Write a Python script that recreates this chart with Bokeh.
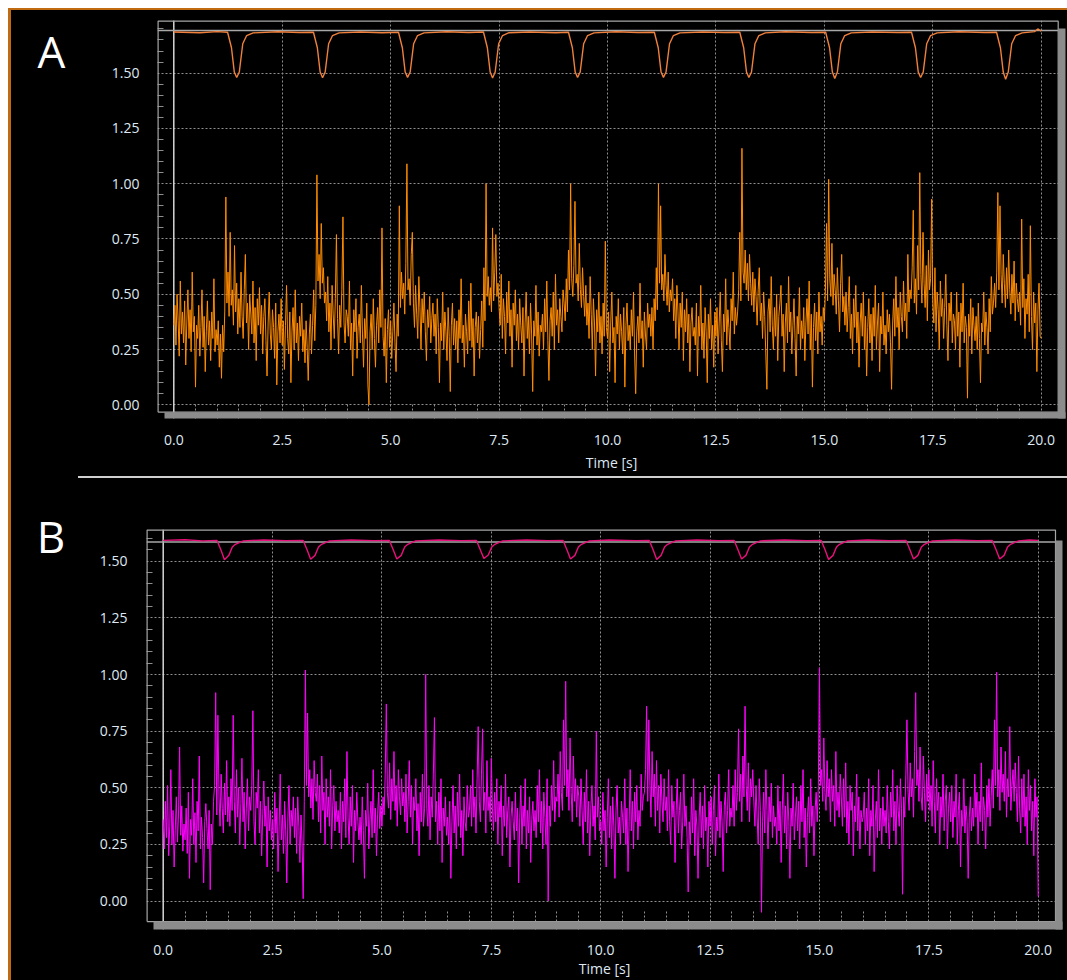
import numpy as np
from bokeh.plotting import figure
from bokeh.models import FixedTicker, NumeralTickFormatter, Spacer, Range1d
from bokeh.core.properties import value
from bokeh.layouts import column, row
from bokeh.embed import file_html
from bokeh.resources import INLINE

# ---------------- data ----------------
SAMPLE_DT = 0.025  # seconds between samples of the noisy traces

# Panel A, orange noisy trace (one value every 0.025 s, 0 .. 20 s; one row = 0.5 s)
A_signal = [
    0.36, 0.45, 0.27, 0.50, 0.38, 0.22, 0.56, 0.32, 0.42, 0.28, 0.47, 0.18, 0.37, 0.52, 0.30, 0.43, 0.24, 0.60, 0.33, 0.40,
    0.08, 0.36, 0.30, 0.45, 0.22, 0.35, 0.52, 0.26, 0.40, 0.15, 0.33, 0.47, 0.27, 0.38, 0.20, 0.42, 0.30, 0.57, 0.24, 0.34,
    0.27, 0.38, 0.17, 0.32, 0.12, 0.36, 0.24, 0.42, 0.94, 0.46, 0.60, 0.40, 0.78, 0.45, 0.52, 0.36, 0.72, 0.42, 0.55, 0.32,
    0.48, 0.35, 0.60, 0.40, 0.30, 0.52, 0.68, 0.37, 0.46, 0.25, 0.50, 0.41, 0.32, 0.56, 0.28, 0.44, 0.20, 0.48, 0.36, 0.53,
    0.32, 0.45, 0.23, 0.40, 0.48, 0.29, 0.13, 0.37, 0.51, 0.32, 0.25, 0.43, 0.35, 0.21, 0.46, 0.09, 0.33, 0.41, 0.28, 0.48,
    0.27, 0.38, 0.16, 0.36, 0.54, 0.30, 0.23, 0.42, 0.10, 0.33, 0.44, 0.25, 0.52, 0.28, 0.37, 0.20, 0.40, 0.31, 0.46, 0.24,
    0.34, 0.19, 0.38, 0.26, 0.11, 0.32, 0.41, 0.23, 0.36, 0.52, 0.29, 0.45, 1.04, 0.56, 0.68, 0.48, 0.82, 0.55, 0.62, 0.46,
    0.51, 0.38, 0.58, 0.33, 0.46, 0.25, 0.54, 0.41, 0.30, 0.48, 0.77, 0.39, 0.23, 0.45, 0.35, 0.52, 0.85, 0.37, 0.28, 0.43,
    0.40, 0.31, 0.56, 0.25, 0.37, 0.13, 0.43, 0.33, 0.48, 0.21, 0.35, 0.41, 0.28, 0.54, 0.32, 0.17, 0.39, 0.30, 0.46, 0.09,
    0.00, 0.33, 0.41, 0.25, 0.48, 0.30, 0.17, 0.36, 0.44, 0.28, 0.52, 0.35, 0.80, 0.31, 0.22, 0.39, 0.10, 0.34, 0.43, 0.26,
    0.38, 0.21, 0.33, 0.46, 0.28, 0.15, 0.41, 0.31, 0.90, 0.44, 0.60, 0.48, 0.55, 0.41, 0.64, 1.09, 0.52, 0.57, 0.45, 0.68,
    0.78, 0.46, 0.35, 0.54, 0.41, 0.30, 0.58, 0.44, 0.25, 0.48, 0.37, 0.51, 0.33, 0.20, 0.43, 0.35, 0.49, 0.28, 0.39, 0.46,
    0.31, 0.41, 0.23, 0.48, 0.35, 0.10, 0.37, 0.29, 0.51, 0.25, 0.42, 0.33, 0.20, 0.44, 0.31, 0.06, 0.36, 0.46, 0.27, 0.39,
    0.25, 0.38, 0.19, 0.43, 0.30, 0.57, 0.28, 0.36, 0.17, 0.41, 0.33, 0.23, 0.47, 0.29, 0.55, 0.26, 0.39, 0.13, 0.35, 0.42,
    0.28, 0.40, 0.21, 0.34, 0.47, 0.26, 0.62, 0.38, 1.00, 0.49, 0.58, 0.45, 0.53, 0.42, 0.80, 0.47, 0.60, 0.77, 0.49, 0.55,
    0.44, 0.36, 0.59, 0.30, 0.48, 0.40, 0.23, 0.51, 0.37, 0.56, 0.31, 0.43, 0.17, 0.46, 0.36, 0.52, 0.29, 0.41, 0.25, 0.48,
    0.36, 0.28, 0.44, 0.13, 0.37, 0.51, 0.30, 0.40, 0.23, 0.46, 0.32, 0.06, 0.38, 0.31, 0.54, 0.27, 0.42, 0.22, 0.36, 0.33,
    0.41, 0.25, 0.48, 0.33, 0.56, 0.29, 0.11, 0.38, 0.44, 0.31, 0.51, 0.25, 0.59, 0.36, 0.43, 0.28, 0.48, 0.40, 0.33, 0.52,
    0.46, 0.38, 0.57, 0.42, 0.70, 0.52, 1.00, 0.57, 0.49, 0.63, 0.92, 0.55, 0.59, 0.47, 0.73, 0.52, 0.44, 0.62, 0.49, 0.40,
    0.54, 0.36, 0.46, 0.30, 0.58, 0.41, 0.25, 0.48, 0.37, 0.13, 0.43, 0.33, 0.51, 0.28, 0.40, 0.23, 0.46, 0.31, 0.74, 0.35,
    0.30, 0.42, 0.15, 0.37, 0.51, 0.28, 0.35, 0.10, 0.40, 0.32, 0.48, 0.25, 0.41, 0.33, 0.23, 0.44, 0.08, 0.36, 0.46, 0.29,
    0.36, 0.25, 0.43, 0.31, 0.51, 0.23, 0.05, 0.33, 0.40, 0.28, 0.55, 0.30, 0.38, 0.17, 0.42, 0.32, 0.25, 0.46, 0.35, 0.41,
    0.31, 0.44, 0.25, 0.48, 0.38, 0.62, 0.43, 1.00, 0.55, 0.90, 0.52, 0.59, 0.47, 0.68, 0.54, 0.45, 0.60, 0.42, 0.52, 0.47,
    0.57, 0.38, 0.48, 0.30, 0.54, 0.42, 0.25, 0.46, 0.35, 0.51, 0.20, 0.43, 0.33, 0.48, 0.28, 0.41, 0.15, 0.37, 0.44, 0.31,
    0.35, 0.27, 0.46, 0.13, 0.40, 0.31, 0.54, 0.25, 0.37, 0.21, 0.44, 0.33, 0.10, 0.41, 0.30, 0.48, 0.25, 0.36, 0.17, 0.42,
    0.31, 0.44, 0.23, 0.37, 0.51, 0.29, 0.15, 0.41, 0.33, 0.57, 0.27, 0.43, 0.35, 0.25, 0.48, 0.38, 0.60, 0.32, 0.44, 0.36,
    0.42, 0.52, 0.78, 0.47, 1.16, 0.60, 0.55, 0.70, 0.52, 0.64, 0.47, 0.68, 0.55, 0.45, 0.60, 0.42, 0.57, 0.49, 0.36, 0.52,
    0.62, 0.38, 0.46, 0.30, 0.51, 0.40, 0.23, 0.07, 0.42, 0.48, 0.33, 0.58, 0.36, 0.25, 0.44, 0.31, 0.50, 0.20, 0.40, 0.46,
    0.54, 0.31, 0.41, 0.15, 0.37, 0.46, 0.28, 0.58, 0.33, 0.42, 0.23, 0.36, 0.48, 0.30, 0.13, 0.40, 0.32, 0.53, 0.25, 0.38,
    0.30, 0.44, 0.20, 0.37, 0.48, 0.32, 0.56, 0.25, 0.41, 0.08, 0.35, 0.46, 0.29, 0.42, 0.23, 0.51, 0.33, 0.40, 0.27, 0.44,
    0.38, 0.52, 0.82, 0.47, 1.02, 0.57, 0.49, 0.73, 0.45, 0.59, 0.52, 0.41, 0.62, 0.47, 0.33, 0.55, 0.68, 0.42, 0.49, 0.36,
    0.51, 0.33, 0.44, 0.58, 0.30, 0.41, 0.23, 0.48, 0.35, 0.54, 0.28, 0.42, 0.17, 0.37, 0.46, 0.31, 0.51, 0.25, 0.40, 0.13,
    0.35, 0.48, 0.28, 0.41, 0.20, 0.44, 0.31, 0.54, 0.25, 0.37, 0.46, 0.15, 0.40, 0.32, 0.51, 0.27, 0.36, 0.23, 0.43, 0.33,
    0.41, 0.28, 0.07, 0.37, 0.48, 0.31, 0.58, 0.35, 0.44, 0.25, 0.51, 0.40, 0.33, 0.56, 0.38, 0.46, 0.30, 0.68, 0.42, 0.52,
    0.48, 0.62, 0.88, 0.46, 0.57, 0.41, 0.72, 0.52, 1.05, 0.59, 0.46, 0.78, 0.55, 0.44, 0.63, 0.38, 0.70, 0.52, 0.57, 0.93,
    0.46, 0.37, 0.62, 0.33, 0.51, 0.43, 0.25, 0.56, 0.40, 0.48, 0.30, 0.44, 0.59, 0.36, 0.20, 0.46, 0.38, 0.51, 0.28, 0.41,
    0.38, 0.25, 0.51, 0.31, 0.42, 0.17, 0.46, 0.33, 0.55, 0.28, 0.40, 0.35, 0.03, 0.41, 0.31, 0.48, 0.23, 0.44, 0.36, 0.29,
    0.40, 0.25, 0.46, 0.30, 0.10, 0.37, 0.33, 0.51, 0.27, 0.42, 0.35, 0.23, 0.48, 0.33, 0.58, 0.41, 0.46, 0.55, 0.44, 0.60,
    0.96, 0.52, 0.90, 0.59, 0.46, 0.68, 0.55, 0.44, 0.62, 0.48, 0.70, 0.52, 0.41, 0.59, 0.46, 0.65, 0.38, 0.55, 0.48, 0.42,
    0.51, 0.36, 0.84, 0.44, 0.57, 0.30, 0.48, 0.41, 0.59, 0.33, 0.81, 0.40, 0.25, 0.51, 0.37, 0.46, 0.15, 0.43, 0.55, 0.31,
    0.30,
]

# Panel B, magenta noisy trace (one value every 0.025 s, 0 .. 20 s; one row = 0.5 s)
B_signal = [
    0.36, 0.23, 0.44, 0.28, 0.51, 0.20, 0.33, 0.58, 0.25, 0.40, 0.15, 0.31, 0.46, 0.26, 0.38, 0.68, 0.29, 0.42, 0.22, 0.34,
    0.27, 0.41, 0.21, 0.48, 0.10, 0.36, 0.29, 0.54, 0.25, 0.39, 0.17, 0.44, 0.31, 0.64, 0.23, 0.37, 0.28, 0.08, 0.35, 0.43,
    0.32, 0.23, 0.40, 0.05, 0.34, 0.25, 0.44, 0.51, 0.92, 0.38, 0.82, 0.46, 0.33, 0.56, 0.41, 0.30, 0.52, 0.38, 0.62, 0.35,
    0.46, 0.33, 0.54, 0.40, 0.82, 0.44, 0.30, 0.58, 0.37, 0.50, 0.25, 0.43, 0.63, 0.35, 0.48, 0.23, 0.41, 0.54, 0.31, 0.46,
    0.40, 0.51, 0.84, 0.35, 0.25, 0.48, 0.41, 0.58, 0.30, 0.44, 0.20, 0.38, 0.53, 0.33, 0.42, 0.15, 0.46, 0.31, 0.40, 0.27,
    0.36, 0.23, 0.48, 0.30, 0.41, 0.13, 0.33, 0.56, 0.27, 0.38, 0.21, 0.44, 0.31, 0.08, 0.37, 0.51, 0.25, 0.40, 0.33, 0.46,
    0.28, 0.41, 0.21, 0.46, 0.33, 0.17, 0.38, 0.25, 0.01, 0.44, 1.02, 0.51, 0.83, 0.46, 0.58, 0.41, 0.54, 0.36, 0.62, 0.48,
    0.44, 0.56, 0.35, 0.51, 0.30, 0.64, 0.40, 0.48, 0.25, 0.54, 0.37, 0.46, 0.33, 0.58, 0.23, 0.42, 0.51, 0.31, 0.44, 0.35,
    0.40, 0.30, 0.48, 0.23, 0.44, 0.35, 0.54, 0.28, 0.66, 0.37, 0.25, 0.46, 0.33, 0.51, 0.17, 0.40, 0.31, 0.48, 0.35, 0.27,
    0.37, 0.25, 0.46, 0.31, 0.10, 0.40, 0.33, 0.52, 0.23, 0.36, 0.44, 0.28, 0.58, 0.30, 0.41, 0.20, 0.38, 0.48, 0.32, 0.42,
    0.33, 0.46, 0.38, 0.56, 0.87, 0.48, 0.41, 0.61, 0.36, 0.54, 0.44, 0.66, 0.40, 0.51, 0.33, 0.58, 0.46, 0.38, 0.54, 0.42,
    0.48, 0.35, 0.56, 0.30, 0.44, 0.62, 0.37, 0.51, 0.25, 0.46, 0.40, 0.54, 0.31, 0.43, 0.20, 0.48, 0.35, 0.56, 0.33, 0.41,
    1.00, 0.41, 0.33, 0.51, 0.27, 0.46, 0.37, 0.56, 0.81, 0.35, 0.44, 0.25, 0.48, 0.31, 0.54, 0.17, 0.41, 0.33, 0.46, 0.29,
    0.37, 0.25, 0.44, 0.10, 0.35, 0.51, 0.30, 0.42, 0.23, 0.48, 0.33, 0.56, 0.28, 0.40, 0.20, 0.46, 0.35, 0.31, 0.51, 0.37,
    0.40, 0.51, 0.33, 0.58, 0.37, 0.46, 0.30, 0.54, 0.77, 0.44, 0.35, 0.56, 0.76, 0.40, 0.48, 0.30, 0.62, 0.40, 0.46, 0.35,
    0.63, 0.41, 0.31, 0.48, 0.35, 0.54, 0.25, 0.44, 0.37, 0.51, 0.20, 0.42, 0.33, 0.56, 0.28, 0.40, 0.46, 0.15, 0.37, 0.44,
    0.35, 0.27, 0.48, 0.31, 0.41, 0.08, 0.37, 0.51, 0.25, 0.42, 0.33, 0.54, 0.23, 0.40, 0.30, 0.46, 0.17, 0.36, 0.44, 0.31,
    0.40, 0.28, 0.51, 0.35, 0.58, 0.30, 0.44, 0.23, 0.48, 0.37, 0.25, 0.54, 0.00, 0.42, 0.33, 0.51, 0.40, 0.62, 0.35, 0.46,
    0.44, 0.56, 0.37, 0.66, 0.48, 0.40, 0.80, 0.51, 0.97, 0.46, 0.58, 0.40, 0.72, 0.48, 0.35, 0.64, 0.44, 0.54, 0.37, 0.51,
    0.46, 0.33, 0.54, 0.40, 0.25, 0.48, 0.35, 0.58, 0.30, 0.44, 0.20, 0.41, 0.51, 0.33, 0.42, 0.27, 0.75, 0.37, 0.46, 0.31,
    0.35, 0.25, 0.48, 0.31, 0.40, 0.15, 0.37, 0.54, 0.28, 0.42, 0.23, 0.46, 0.33, 0.10, 0.40, 0.51, 0.30, 0.37, 0.25, 0.44,
    0.37, 0.30, 0.54, 0.25, 0.41, 0.13, 0.35, 0.58, 0.31, 0.44, 0.23, 0.48, 0.35, 0.51, 0.27, 0.40, 0.33, 0.56, 0.40, 0.46,
    0.48, 0.58, 0.86, 0.44, 0.80, 0.51, 0.37, 0.66, 0.46, 0.56, 0.33, 0.62, 0.40, 0.51, 0.30, 0.56, 0.44, 0.35, 0.54, 0.40,
    0.46, 0.31, 0.58, 0.35, 0.25, 0.51, 0.37, 0.44, 0.17, 0.40, 0.54, 0.30, 0.40, 0.48, 0.23, 0.35, 0.56, 0.33, 0.42, 0.28,
    0.04, 0.35, 0.25, 0.46, 0.30, 0.54, 0.20, 0.40, 0.33, 0.10, 0.37, 0.48, 0.28, 0.42, 0.23, 0.51, 0.31, 0.37, 0.15, 0.44,
    0.33, 0.46, 0.25, 0.40, 0.51, 0.20, 0.37, 0.31, 0.56, 0.28, 0.44, 0.35, 0.13, 0.42, 0.48, 0.30, 0.40, 0.58, 0.33, 0.41,
    0.37, 0.51, 0.33, 0.58, 0.40, 0.48, 0.76, 0.44, 0.56, 0.35, 0.64, 0.46, 0.86, 0.51, 0.40, 0.61, 0.35, 0.54, 0.46, 0.58,
    0.44, 0.33, 0.51, 0.37, 0.25, 0.54, 0.40, -0.05, 0.35, 0.48, 0.30, 0.58, 0.40, 0.23, 0.46, 0.35, 0.52, 0.28, 0.42, 0.33,
    0.37, 0.25, 0.51, 0.31, 0.44, 0.17, 0.40, 0.56, 0.30, 0.42, 0.23, 0.48, 0.35, 0.10, 0.41, 0.33, 0.52, 0.27, 0.37, 0.46,
    0.31, 0.44, 0.23, 0.51, 0.35, 0.58, 0.28, 0.41, 0.15, 0.37, 0.46, 0.30, 0.54, 0.33, 0.42, 0.20, 0.40, 0.48, 0.35, 0.51,
    1.03, 0.51, 0.58, 0.44, 0.72, 0.48, 0.40, 0.62, 0.46, 0.54, 0.35, 0.58, 0.44, 0.51, 0.33, 0.66, 0.40, 0.48, 0.37, 0.56,
    0.46, 0.33, 0.54, 0.37, 0.61, 0.30, 0.44, 0.25, 0.51, 0.40, 0.48, 0.20, 0.42, 0.35, 0.56, 0.31, 0.46, 0.23, 0.40, 0.35,
    0.37, 0.48, 0.25, 0.41, 0.31, 0.54, 0.20, 0.40, 0.33, 0.51, 0.13, 0.35, 0.44, 0.28, 0.58, 0.31, 0.41, 0.25, 0.46, 0.33,
    0.40, 0.30, 0.51, 0.35, 0.23, 0.48, 0.37, 0.58, 0.31, 0.44, 0.25, 0.51, 0.40, 0.33, 0.54, 0.41, 0.03, 0.46, 0.37, 0.56,
    0.80, 0.48, 0.40, 0.61, 0.46, 0.54, 0.37, 0.66, 0.92, 0.51, 0.58, 0.44, 0.68, 0.46, 0.40, 0.64, 0.48, 0.35, 0.56, 0.44,
    0.58, 0.40, 0.51, 0.33, 0.62, 0.44, 0.30, 0.54, 0.40, 0.48, 0.25, 0.46, 0.37, 0.56, 0.31, 0.44, 0.51, 0.23, 0.41, 0.48,
    0.35, 0.51, 0.28, 0.44, 0.37, 0.56, 0.25, 0.40, 0.48, 0.15, 0.40, 0.33, 0.54, 0.30, 0.42, 0.35, 0.10, 0.37, 0.46, 0.31,
    0.41, 0.33, 0.56, 0.37, 0.48, 0.25, 0.44, 0.35, 0.61, 0.31, 0.46, 0.40, 0.23, 0.51, 0.37, 0.54, 0.33, 0.46, 0.58, 0.41,
    0.80, 0.51, 1.01, 0.46, 0.58, 0.40, 0.68, 0.48, 0.56, 0.44, 0.66, 0.37, 0.54, 0.46, 0.77, 0.40, 0.51, 0.58, 0.44, 0.61,
    0.48, 0.35, 0.64, 0.41, 0.30, 0.54, 0.37, 0.56, 0.33, 0.46, 0.25, 0.58, 0.40, 0.51, 0.31, 0.44, 0.20, 0.54, 0.37, 0.46,
    0.02,
]

# Panel A, upper trace with periodic dips
A_top_t = [0.0, 0.6, 1.0,
           1.24, 1.33, 1.395, 1.45, 1.51, 1.59, 1.68, 1.83, 2.4, 2.9,
           3.22, 3.31, 3.375, 3.43, 3.49, 3.57, 3.66, 3.81, 4.3, 4.8,
           5.18, 5.27, 5.335, 5.39, 5.45, 5.53, 5.62, 5.77, 6.3, 6.8,
           7.14, 7.23, 7.295, 7.35, 7.41, 7.49, 7.58, 7.73, 8.2, 8.8,
           9.10, 9.19, 9.255, 9.31, 9.37, 9.45, 9.54, 9.69, 10.2, 10.7,
           11.08, 11.17, 11.235, 11.29, 11.35, 11.43, 11.52, 11.67, 12.2, 12.7,
           13.05, 13.14, 13.205, 13.26, 13.32, 13.40, 13.49, 13.64, 14.1, 14.7,
           15.03, 15.12, 15.185, 15.24, 15.30, 15.38, 15.47, 15.62, 16.1, 16.7,
           17.01, 17.10, 17.165, 17.22, 17.28, 17.36, 17.45, 17.60, 18.1, 18.7,
           18.97, 19.06, 19.125, 19.18, 19.24, 19.32, 19.41, 19.56, 19.85, 19.92, 20.0]
A_top_v = [1.686, 1.683, 1.688,
           1.685, 1.615, 1.505, 1.480, 1.505, 1.633, 1.670, 1.682, 1.687, 1.684,
           1.685, 1.615, 1.505, 1.479, 1.505, 1.633, 1.670, 1.682, 1.686, 1.683,
           1.685, 1.615, 1.505, 1.481, 1.505, 1.633, 1.670, 1.682, 1.687, 1.684,
           1.686, 1.615, 1.505, 1.478, 1.505, 1.633, 1.670, 1.683, 1.686, 1.683,
           1.685, 1.615, 1.505, 1.480, 1.505, 1.633, 1.670, 1.682, 1.687, 1.684,
           1.685, 1.615, 1.505, 1.481, 1.505, 1.633, 1.670, 1.682, 1.686, 1.684,
           1.685, 1.615, 1.505, 1.480, 1.505, 1.633, 1.670, 1.682, 1.687, 1.684,
           1.685, 1.615, 1.505, 1.476, 1.505, 1.633, 1.670, 1.682, 1.686, 1.684,
           1.685, 1.615, 1.505, 1.480, 1.505, 1.633, 1.670, 1.682, 1.687, 1.684,
           1.685, 1.615, 1.505, 1.472, 1.505, 1.633, 1.670, 1.682, 1.688, 1.700, 1.690]

# Panel B, upper trace with periodic dips
B_top_t = [0.0, 0.5, 0.9,
           1.23, 1.32, 1.40, 1.50, 1.58, 1.65, 1.83, 2.3, 2.8,
           3.20, 3.29, 3.37, 3.47, 3.55, 3.62, 3.80, 4.3, 4.8,
           5.17, 5.26, 5.34, 5.44, 5.52, 5.59, 5.77, 6.3, 6.8,
           7.16, 7.25, 7.33, 7.43, 7.51, 7.58, 7.76, 8.3, 8.8,
           9.14, 9.23, 9.31, 9.41, 9.49, 9.56, 9.74, 10.2, 10.8,
           11.11, 11.20, 11.28, 11.38, 11.46, 11.53, 11.71, 12.2, 12.7,
           13.05, 13.14, 13.22, 13.32, 13.40, 13.47, 13.65, 14.2, 14.7,
           15.04, 15.13, 15.21, 15.31, 15.39, 15.46, 15.64, 16.1, 16.6,
           16.98, 17.07, 17.15, 17.25, 17.33, 17.40, 17.58, 18.1, 18.6,
           18.95, 19.04, 19.12, 19.22, 19.30, 19.37, 19.55, 19.8, 20.0]
B_top_v = [1.592, 1.595, 1.590,
           1.592, 1.550, 1.507, 1.526, 1.563, 1.575, 1.590, 1.594, 1.591,
           1.592, 1.550, 1.509, 1.526, 1.563, 1.575, 1.590, 1.594, 1.591,
           1.592, 1.550, 1.510, 1.526, 1.563, 1.575, 1.590, 1.594, 1.591,
           1.592, 1.550, 1.512, 1.528, 1.563, 1.575, 1.590, 1.594, 1.591,
           1.592, 1.550, 1.510, 1.526, 1.563, 1.575, 1.590, 1.594, 1.591,
           1.592, 1.550, 1.508, 1.526, 1.563, 1.575, 1.590, 1.594, 1.591,
           1.592, 1.550, 1.510, 1.526, 1.563, 1.575, 1.590, 1.594, 1.591,
           1.592, 1.550, 1.508, 1.526, 1.563, 1.575, 1.590, 1.594, 1.591,
           1.592, 1.550, 1.510, 1.526, 1.563, 1.575, 1.590, 1.594, 1.591,
           1.592, 1.550, 1.510, 1.526, 1.563, 1.575, 1.590, 1.594, 1.592]

# reference line under each upper trace
A_ref_level = 1.693
B_ref_level = 1.585

x_tick_values = [0.0, 2.5, 5.0, 7.5, 10.0, 12.5, 15.0, 17.5, 20.0]
x_minor_values = [0.5, 1.0, 1.5, 2.0, 3.0, 3.5, 4.0, 4.5, 5.5, 6.0, 6.5, 7.0,
                  8.0, 8.5, 9.0, 9.5, 10.5, 11.0, 11.5, 12.0, 13.0, 13.5, 14.0, 14.5,
                  15.5, 16.0, 16.5, 17.0, 18.0, 18.5, 19.0, 19.5]
y_tick_values = [0.0, 0.25, 0.5, 0.75, 1.0, 1.25, 1.5]
y_minor_values = [0.05, 0.1, 0.15, 0.2, 0.3, 0.35, 0.4, 0.45, 0.55, 0.6, 0.65, 0.7,
                  0.8, 0.85, 0.9, 0.95, 1.05, 1.1, 1.15, 1.2, 1.3, 1.35, 1.4, 1.45,
                  1.55, 1.6, 1.65, 1.7]
x_label = "Time [s]"
panel_letters = ["A", "B"]

# ---------------- styling ----------------
FONT = "Open Sans"
TICK_COLOR = "#dfe8f2"
GRID_COLOR = "#8e8e8e"
FRAME_COLOR = "#a6a6a6"
SHADOW_COLOR = "#8c8c8c"
ORANGE_BORDER = "#c06a12"
SPLIT_X = 90  # canvas x where the letter strip ends and the plot figure begins
BLACK = {"background-color": "black"}


def no_align(p):
    if "frame_align" in p.properties():
        p.frame_align = False
    return p


def letter_strip(letter, g):
    w = SPLIT_X - g["ox"]
    h = g["height"]
    p = figure(width=w, height=h, output_backend="svg", toolbar_location=None,
               x_range=Range1d(0, w), y_range=Range1d(0, h),
               x_axis_type=None, y_axis_type=None, min_border=0,
               background_fill_color="black", border_fill_color="black",
               outline_line_color=None)
    p.text(x=[g["lx"] - g["ox"]], y=[h - (g["ly"] - g["oy"])], text=[letter],
           text_color="white", text_font=value(FONT), text_font_size="44px",
           text_align="center", text_baseline="alphabetic")
    return no_align(p)


def make_panel(sig, top_t, top_v, ref_level, sig_color, top_color, g):
    pxs, pxu = g["px_per_s"], g["px_per_unit"]
    x0, y0 = g["x0"], g["y0"]
    xs = (g["f_left"] - x0) / pxs
    xe = (g["f_right"] - x0) / pxs
    ys = (y0 - g["f_bottom"]) / pxu
    ye = (y0 - g["f_top"]) / pxu
    fig_w = g["width"] - (SPLIT_X - g["ox"])
    p = figure(width=fig_w, height=g["height"], output_backend="svg",
               toolbar_location=None,
               x_range=Range1d(xs, xe), y_range=Range1d(ys, ye),
               min_border_left=g["f_left"] - SPLIT_X,
               min_border_right=SPLIT_X + fig_w - g["f_right"],
               min_border_top=g["f_top"] - g["oy"],
               min_border_bottom=g["oy"] + g["height"] - g["f_bottom"],
               background_fill_color="black", border_fill_color="black",
               outline_line_color=None)
    no_align(p)

    for ax in p.xaxis:
        ax.ticker = FixedTicker(ticks=x_tick_values, minor_ticks=x_minor_values)
        ax.formatter = NumeralTickFormatter(format="0.0")
    for ax in p.yaxis:
        ax.ticker = FixedTicker(ticks=y_tick_values, minor_ticks=y_minor_values)
        ax.formatter = NumeralTickFormatter(format="0.00")
    for ax in list(p.xaxis) + list(p.yaxis):
        ax.axis_line_color = None
        ax.major_tick_in = 0
        ax.major_tick_out = 0
        ax.minor_tick_out = 0
        ax.minor_tick_line_color = GRID_COLOR
        ax.major_label_text_color = TICK_COLOR
        ax.major_label_text_font = FONT
        ax.major_label_text_font_size = "14px"
    p.xaxis.minor_tick_in = g["xminor_in"]
    p.xaxis.minor_tick_line_dash = "2 2"
    p.yaxis.minor_tick_in = 6
    p.xaxis.major_label_standoff = g["x_standoff"]
    p.yaxis.major_label_standoff = g["y_standoff"]
    p.xaxis.axis_label = x_label
    p.xaxis.axis_label_text_font = FONT
    p.xaxis.axis_label_text_font_style = "normal"
    p.xaxis.axis_label_text_font_size = "14px"
    p.xaxis.axis_label_text_color = TICK_COLOR
    p.xaxis.axis_label_standoff = g["label_standoff"]

    p.xgrid.grid_line_color = GRID_COLOR
    p.xgrid.grid_line_dash = "2 2"
    p.ygrid.grid_line_color = GRID_COLOR
    p.ygrid.grid_line_dash = "2 2"

    # solid line at t = 0
    p.segment(x0=[0.0], y0=[ys], x1=[0.0], y1=[ye], line_color="#d4d4d4", line_width=1.5)

    # reference line under the upper trace
    ref_right = (g["r_right"] - x0) / pxs
    p.segment(x0=[xs], y0=[ref_level], x1=[ref_right], y1=[ref_level],
              line_color="#a8a8a8", line_width=1.5)

    # noisy trace
    t = np.arange(len(sig)) * SAMPLE_DT
    p.line(t, sig, line_color=sig_color, line_width=1)

    # upper trace
    p.line(top_t, top_v, line_color=top_color, line_width=1.4)

    # frame of the plot area with its grey shadow
    r_bottom = (y0 - g["r_bottom"]) / pxu
    px_x = 1.0 / pxs
    px_y = 1.0 / pxu
    p.multi_line(xs=[[xs + 0.6 * px_x, xs + 0.6 * px_x, ref_right, ref_right, xs + 0.6 * px_x]],
                 ys=[[r_bottom, ye - 0.6 * px_y, ye - 0.6 * px_y, r_bottom, r_bottom]],
                 line_color=FRAME_COLOR, line_width=1.2, level="overlay")
    sh_top = (y0 - g["sh_top"]) / pxu
    sh_left = (g["sh_left"] - x0) / pxs
    p.quad(left=[ref_right, sh_left], right=[xe, xe], bottom=[ys, ys], top=[sh_top, r_bottom],
           fill_color=SHADOW_COLOR, line_color=None, level="overlay")
    return p


geomA = dict(width=1056, height=466, ox=11, oy=10,
             f_left=157, f_right=1065, f_top=20, f_bottom=418,
             x0=173.3, px_per_s=43.37, y0=404.3, px_per_unit=221.1,
             r_right=1057.7, r_bottom=411.7, sh_top=28, sh_left=164,
             xminor_in=16, x_standoff=16, y_standoff=18, label_standoff=5,
             lx=51, ly=50)
geomB = dict(width=1056, height=502, ox=11, oy=478,
             f_left=146, f_right=1062, f_top=529, f_bottom=932,
             x0=162.7, px_per_s=43.75, y0=903.3, px_per_unit=228.2,
             r_right=1055, r_bottom=924, sh_top=540, sh_left=153,
             xminor_in=19, x_standoff=15, y_standoff=19, label_standoff=1,
             lx=50.5, ly=535)

pA = make_panel(A_signal, A_top_t, A_top_v, A_ref_level, "#ff8c00", "#f0803c", geomA)
pB = make_panel(B_signal, B_top_t, B_top_v, B_ref_level, "#ff00ff", "#e8107a", geomB)
lA = letter_strip(panel_letters[0], geomA)
lB = letter_strip(panel_letters[1], geomB)

white = {"background-color": "white"}
orange = {"background-color": ORANGE_BORDER}
sep = row(Spacer(width=67, height=2, styles=BLACK),
          Spacer(width=989, height=2, styles={"background-color": "#cfcfcf"}),
          spacing=0, styles=BLACK)

layout = column(
    Spacer(width=1067, height=8, styles=white),
    row(Spacer(width=8, height=2, styles=white), Spacer(width=1059, height=2, styles=orange), spacing=0),
    row(Spacer(width=8, height=970, styles=white),
        Spacer(width=3, height=970, styles=orange),
        column(row(lA, pA, spacing=0, styles=BLACK), sep,
               row(lB, pB, spacing=0, styles=BLACK), spacing=0, styles=BLACK),
        spacing=0),
    spacing=0,
)

open("out.html", "w").write(file_html(layout, INLINE))
